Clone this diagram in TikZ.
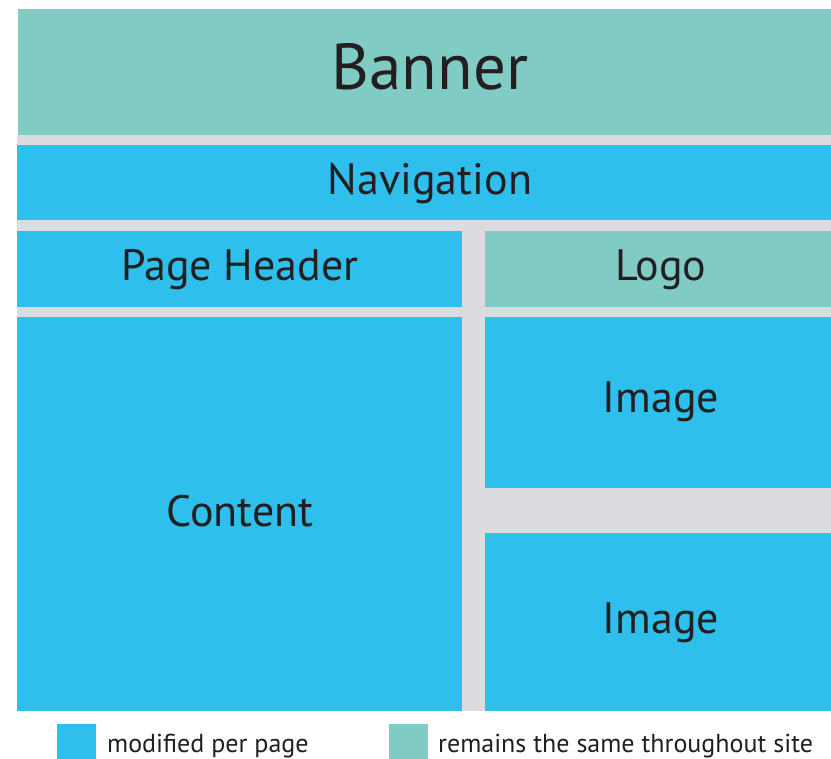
\documentclass[tikz,border=0pt]{standalone}
\usepackage{fontspec}
\setmainfont{PT Sans}
\definecolor{tealc}{HTML}{80CBC4}
\definecolor{bluec}{HTML}{2FBFEC}
\definecolor{grayc}{HTML}{DCDBE0}
\definecolor{txtc}{HTML}{231F20}
\begin{document}
\begin{tikzpicture}[x=1pt,y=-1pt,
  blk/.style={inner sep=0pt, text=txtc, font=\fontsize{44}{48}\selectfont},
  legtxt/.style={inner sep=0pt, anchor=base west, text=txtc, font=\fontsize{26}{30}\selectfont}]
\useasboundingbox[fill=white] (0,0) rectangle (831,759);
% gray background
\fill[grayc] (17,135) rectangle (831,711);
% boxes
\fill[tealc] (18,9) rectangle (831,135);
\fill[bluec] (17,145) rectangle (831,220);
\fill[bluec] (17,231) rectangle (462,307);
\fill[tealc] (485,231) rectangle (831,307);
\fill[bluec] (17,317) rectangle (462,711);
\fill[bluec] (485,317) rectangle (831,488);
\fill[bluec] (485,533) rectangle (831,711);
% labels
\node[blk, font=\fontsize{65}{70}\selectfont] (banner) at (430,67) {Banner};
\node[blk] (nav) at (430,184) {Navigation};
\node[blk] (ph) at (240,270) {Page Header};
\node[blk] (logo) at (661,270) {Logo};
\node[blk] (content) at (240,511) {Content};
\node[blk] (img1) at (661,402) {Image};
\node[blk] (img2) at (661,623) {Image};
% legend
\fill[bluec] (57,724) rectangle (96,760);
\node[legtxt] (l1) at (107,752) {modified per page};
\fill[tealc] (389,724) rectangle (428,760);
\node[legtxt] (l2) at (438,752) {remains the same throughout site};
\end{tikzpicture}
\end{document}
